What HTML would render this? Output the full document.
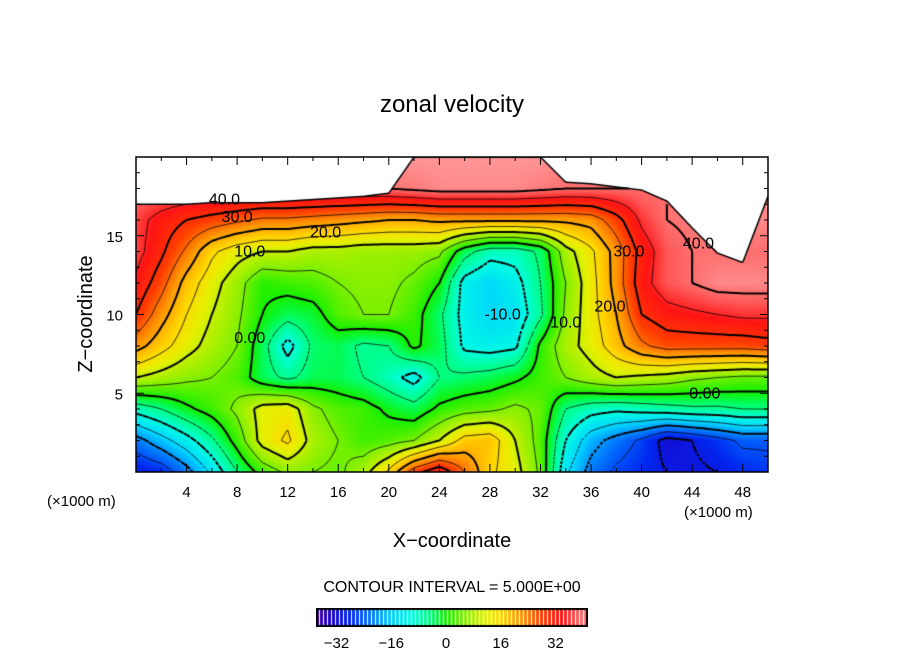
<!DOCTYPE html>
<html><head><meta charset="utf-8"><style>
body{margin:0;background:#fff;width:904px;height:654px;overflow:hidden;position:relative;font-family:"Liberation Sans",sans-serif}
canvas{position:absolute}
svg{position:absolute;left:0;top:0}
</style></head><body>
<canvas id="plot" width="632" height="315" style="left:136px;top:157px"></canvas>
<canvas id="cbar" width="272" height="19" style="left:316px;top:608px"></canvas>
<svg id="ov" width="904" height="654">
<text x="452" y="112" font-size="24" text-anchor="middle">zonal velocity</text>
<text x="452" y="547" font-size="20" text-anchor="middle">X−coordinate</text>
<text transform="translate(92,314) rotate(-90)" font-size="20" text-anchor="middle">Z−coordinate</text>
<text x="47" y="506" font-size="15">(×1000 m)</text>
<text x="684" y="517" font-size="15">(×1000 m)</text>
<text x="452" y="592" font-size="16" text-anchor="middle">CONTOUR INTERVAL = 5.000E+00</text>
<g id="axes"></g>
</svg>
<script>
const xs=[0,2,4,6,8,10,12,14,16,18,20,22,24,26,28,30,32,34,36,38,40,42,44,46,48,50];
const zs=[0,2,4,6,8,10,12,14,16,18,20];
const topZ=[17,17,17,17.1,17.1,17.1,17.2,17.3,17.4,17.5,17.7,20,20,20,20,20,20,18.4,18.3,18.1,17.9,17.2,15.5,13.9,13.3,17.5];
const row0=[-30,-28,-22,-14,-5,2,6,5,4,8,16,28,34,25,16,12,4,-14,-22,-26,-28,-30,-31,-30,-28,-27];
const row2=[-22,-17,-12,-6,2,12,16,8,5,2,3,5,10,17,18,10,3,-10,-18,-22,-26,-32,-30,-27,-24,-24];
const row4=[-8,-5,-1,2,6,12,13,6,3,2,-1,-3,1,3,4,6,4,-5,-8,-9,-8,-7,-6,-6,-5,-5];
const row6=[10,8,6,5,3,-3,-6,-3,-3,-5,-8,-12,-5,-4,-3,-1,2,5,8,10,9,8,6,5,4,4];
const row8=[22,17,12,8,5,-3,-12,-4,-3,-6,-5,1,-3,-11,-12,-11,1,8,12,18,24,27,27,27,27,28];
const row10=[30,22,15,10,6,0,-3,-2,3,5,5,2,-4,-12,-15,-14,-6,6,13,20,30,33,34,35,36,36];
const row12=[34,27,18,12,7,1,2,3,5,6,6,4,0,-12,-15,-12,-5,5,13,22,33,38,40,42,42,42];
const row14=[37,31,24,16,12,10,10,8,8,7,7,7,6,-3,-8,-8,-4,8,14,22,32,38,40,40,40,40];
const row16=[37,33,30,28,26,24,24,23,22,21,20,20,21,21,21,21,21,21,22,28,36,40,41,42,42,42];
const row18=[40,40,40,40,40,40,40,40,40,40,40,41,42,42,42,42,41,40,40,40,40,40,42,42,42,42];
const row20=[42,42,42,42,42,42,42,43,43,43,43,43,43,43,43,43,43,42,42,42,42,42,42,42,42,42];
const grid=[row0,row2,row4,row6,row8,row10,row12,row14,row16,row18,row20];
const xTicks=[4,8,12,16,20,24,28,32,36,40,44,48];
const zTicks=[5,10,15];
const cbTicks=[-32,-16,0,16,32];
const cmap=[[-40,[90,0,150]],[-34,[30,0,200]],[-28,[0,40,240]],[-22,[0,120,255]],[-16,[0,210,255]],[-10,[0,255,225]],[-4,[0,255,110]],[0,[20,240,0]],[6,[140,240,0]],[12,[230,240,0]],[16,[255,215,0]],[22,[255,150,0]],[28,[255,60,0]],[34,[255,20,20]],[38,[255,85,85]],[43,[255,150,150]]];
function colorOf(v){if(v<=cmap[0][0])return cmap[0][1];for(let i=1;i<cmap.length;i++){if(v<=cmap[i][0]){const a=cmap[i-1],b=cmap[i],t=(v-a[0])/(b[0]-a[0]);return a[1].map((c,k)=>Math.round(c+(b[1][k]-c)*t));}}return cmap[cmap.length-1][1];}
const X0=136,X1=768,Z0=472,Z1=157,XMAX=50,ZMAX=20;
const sx=x=>X0+x/XMAX*(X1-X0), sz=z=>Z0-z/ZMAX*(Z0-Z1);
function valAt(x,z){let fi=x/2,fj=z/2;let i=Math.max(0,Math.min(Math.floor(fi),xs.length-2)),j=Math.max(0,Math.min(Math.floor(fj),zs.length-2));let tx=fi-i,tz=fj-j;
return grid[j][i]*(1-tx)*(1-tz)+grid[j][i+1]*tx*(1-tz)+grid[j+1][i]*(1-tx)*tz+grid[j+1][i+1]*tx*tz;}
function topAt(x){let fi=x/2,i=Math.max(0,Math.min(Math.floor(fi),xs.length-2)),t=fi-i;return topZ[i]*(1-t)+topZ[i+1]*t;}
const cv=document.getElementById('plot'),ctx=cv.getContext('2d');
const W=cv.width,H=cv.height,img=ctx.createImageData(W,H);
for(let py=0;py<H;py++){const z=(H-0.5-py)/H*ZMAX;for(let px=0;px<W;px++){const x=(px+0.5)/W*XMAX;const o=(py*W+px)*4;
if(z>topAt(x)){img.data[o]=255;img.data[o+1]=255;img.data[o+2]=255;}else{const c=colorOf(valAt(x,z));img.data[o]=c[0];img.data[o+1]=c[1];img.data[o+2]=c[2];}img.data[o+3]=255;}}
ctx.putImageData(img,0,0);
const st=0.25,nx=XMAX/st+1,nz=ZMAX/st+1;const F=[];
for(let j=0;j<nz;j++){F[j]=[];for(let i=0;i<nx;i++)F[j][i]=valAt(i*st,j*st);}
const cpx=x=>x/XMAX*W, cpz=z=>H-z/ZMAX*H;
for(let L=-40;L<=40;L+=5){ctx.beginPath();
for(let j=0;j<nz-1;j++)for(let i=0;i<nx-1;i++){const x=i*st,z=j*st;if(z+st>topAt(x+st/2))continue;
const v=[F[j][i],F[j][i+1],F[j+1][i+1],F[j+1][i]];const p=[[x,z],[x+st,z],[x+st,z+st],[x,z+st]];const pts=[];
for(let k=0;k<4;k++){const a=v[k],b=v[(k+1)%4];if((a<L)!==(b<L)){const t=(L-a)/(b-a);const A=p[k],B=p[(k+1)%4];pts.push([A[0]+(B[0]-A[0])*t,A[1]+(B[1]-A[1])*t]);}}
for(let k=0;k+1<pts.length;k+=2){ctx.moveTo(cpx(pts[k][0]),cpz(pts[k][1]));ctx.lineTo(cpx(pts[k+1][0]),cpz(pts[k+1][1]));}}
ctx.strokeStyle='#000';ctx.lineWidth=(L%10===0)?2:0.8;ctx.setLineDash(L<0?[3,2]:[]);ctx.stroke();}
ctx.setLineDash([]);
ctx.beginPath();for(let px=0;px<=W;px++){const x=px/W*XMAX;const y=cpz(topAt(x));if(px)ctx.lineTo(px,y);else ctx.moveTo(px,y);}ctx.lineWidth=1.5;ctx.stroke();
const cb=document.getElementById('cbar'),cc=cb.getContext('2d');const CBMIN=-38,CBMAX=41.5;
for(let px=0;px<272;px++){const v=CBMIN+(px+0.5)/272*(CBMAX-CBMIN);const c=colorOf(v);cc.fillStyle=(px%4===3)?'#fff':'rgb('+c.join(',')+')';cc.fillRect(px,0,1,19);}
cc.strokeStyle='#000';cc.lineWidth=2;cc.strokeRect(1,1,270,17);
const ns='http://www.w3.org/2000/svg',axg=document.getElementById('axes');
function mk(t,a){const e=document.createElementNS(ns,t);for(const k in a)e.setAttribute(k,a[k]);axg.appendChild(e);return e;}
const fr=mk('rect',{x:X0,y:Z1,width:X1-X0,height:Z0-Z1,fill:'none',stroke:'#000','stroke-width':1.5});


for(let x=2;x<XMAX;x+=2){const len=x%4===0?8:4;
const t1=mk('line',{x1:sx(x),x2:sx(x),y1:Z0,y2:Z0-len,stroke:'#000'});


const t2=mk('line',{x1:sx(x),x2:sx(x),y1:Z1,y2:Z1+len,stroke:'#000'});

}
for(let z=1;z<ZMAX;z++){const len=z%5===0?8:4;
const t1=mk('line',{x1:X0,x2:X0+len,y1:sz(z),y2:sz(z),stroke:'#000'});


const t2=mk('line',{x1:X1,x2:X1-len,y1:sz(z),y2:sz(z),stroke:'#000'});

}
xTicks.forEach(x=>{const t=mk('text',{x:sx(x),y:497,'font-size':15,'text-anchor':'middle'});t.textContent=x;

});
zTicks.forEach(z=>{const t=mk('text',{x:123,y:sz(z)+6,'font-size':15,'text-anchor':'end'});t.textContent=z;

});
cbTicks.forEach(v=>{const t=mk('text',{x:316+(v-CBMIN)/(CBMAX-CBMIN)*272,y:648,'font-size':15,'text-anchor':'middle'});t.textContent=v<0?'−'+(-v):v;

});
const labs=[['40.0',7,17.3],['30.0',8,16.2],['20.0',15,15.2],['10.0',9,14],['0.00',9,8.5],['0.00',45,5.0],['10.0',34,9.5],['20.0',37.5,10.5],['30.0',39,14],['40.0',44.5,14.5],['-10.0',29,10]];
labs.forEach(l=>{const t=mk('text',{x:sx(l[1]),y:sz(l[2])+5,'font-size':16,'text-anchor':'middle'});t.textContent=l[0];

});
</script>
</body></html>
